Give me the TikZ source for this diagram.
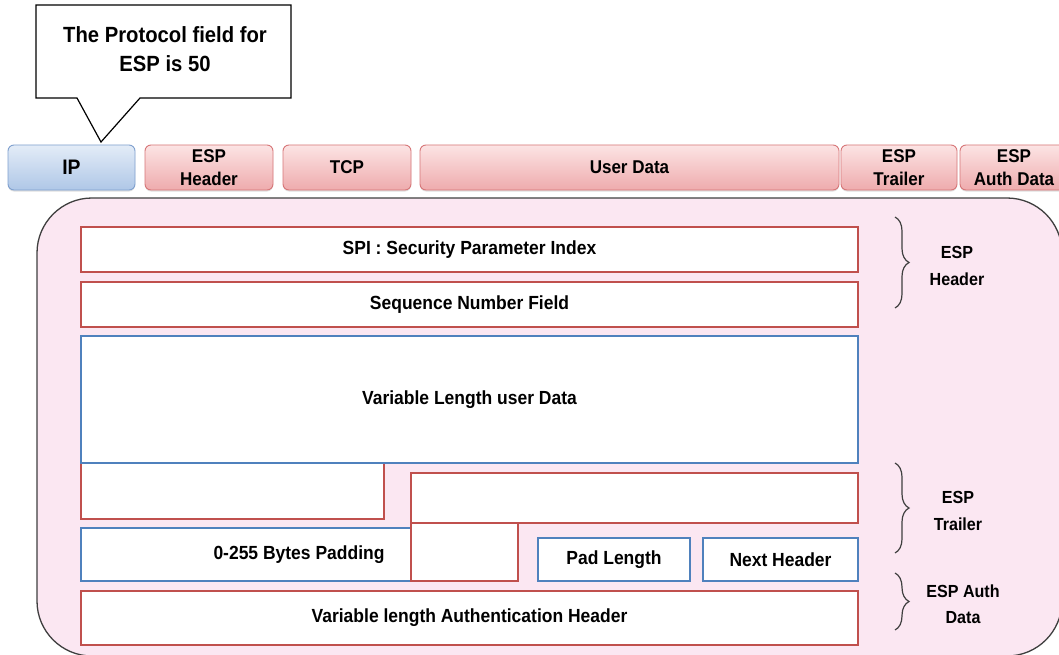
\documentclass[tikz,border=0pt]{standalone}
\usepackage{fontspec}
\setmainfont{Liberation Sans}[FakeStretch=0.92]
\usetikzlibrary{decorations.pathreplacing,shadows}
\definecolor{boxred}{HTML}{C0504D}
\definecolor{boxblue}{HTML}{4F81BD}
\definecolor{bgpink}{HTML}{FBE7F2}
\definecolor{pkttop}{HTML}{FCE4E4}
\definecolor{pktbot}{HTML}{EEABAD}
\definecolor{pktline}{HTML}{D77678}
\definecolor{iptop}{HTML}{E3ECF7}
\definecolor{ipbot}{HTML}{AFC7E7}
\definecolor{ipline}{HTML}{7FA0CF}
\definecolor{darkline}{HTML}{3F3F3F}
\begin{document}
\begin{tikzpicture}[x=1pt,y=-1pt,
  fld/.style={draw=boxred, line width=2.4pt, fill=white, inner sep=0pt, outer sep=0pt,
    anchor=north west, align=center, font=\bfseries\fontsize{19}{22}\selectfont},
  bfld/.style={fld, draw=boxblue},
  pkt/.style={draw=pktline, line width=0.9pt, rounded corners=6pt, top color=pkttop, bottom color=pktbot,
    inner sep=0pt, outer sep=0pt, anchor=north west, minimum height=45pt, align=center,
    font=\bfseries\fontsize{18.5}{23}\selectfont,
    drop shadow={shadow xshift=0pt, shadow yshift=-1.5pt, opacity=0.25}},
  ippkt/.style={pkt, draw=ipline, top color=iptop, bottom color=ipbot, font=\bfseries\fontsize{21}{23}\selectfont},
  brlabel/.style={align=center, font=\bfseries\fontsize{17.5}{26.5}\selectfont},
  brc/.style={decorate, decoration={brace, amplitude=14pt}, draw=darkline, line width=1.2pt},
]
\useasboundingbox (0,0) rectangle (1059,655);
\clip (0,0) rectangle (1059,655);
\fill[white] (0,0) rectangle (1059,655);

% container
\draw[darkline, line width=1.3pt, fill=bgpink, rounded corners=55pt] (37,198) rectangle (1062,656);

% callout
\draw[black, line width=1.2pt, fill=white] (36,5) -- (291,5) -- (291,98) -- (140,98) -- (101,142) -- (77,98) -- (36,98) -- cycle;
\node[align=center, font=\bfseries\fontsize{22}{29}\selectfont] (callout) at (165,49) {The Protocol field for\\ESP is 50};

% packet row
\node[ippkt, minimum width=127pt] (ip) at (8,145) {IP};
\node[pkt, minimum width=128pt] (esph) at (145,145) {ESP\\Header};
\node[pkt, minimum width=128pt] (tcp) at (283,145) {TCP};
\node[pkt, minimum width=419pt] (udata) at (420,145) {User Data};
\node[pkt, minimum width=116pt] (espt) at (841,145) {ESP\\Trailer};
\node[pkt, minimum width=108pt] (espa) at (960,145) {ESP\\Auth Data};

% fields
\node[fld, minimum width=777pt, minimum height=45pt] (spi) at (81,227) {SPI : Security Parameter Index};
\node[fld, minimum width=777pt, minimum height=45pt] (seq) at (81,282) {Sequence Number Field};
\node[fld, minimum width=303pt, minimum height=56pt] (padA) at (81,463) {};
\node[bfld, minimum width=777pt, minimum height=127pt] (vdata) at (81,336) {Variable Length user Data};
\node[bfld, minimum width=330pt, minimum height=53pt] (pad) at (81,528) {};
\node[font=\bfseries\fontsize{19}{22}\selectfont, inner sep=0pt] (padtxt) at (299,555) {0-255 Bytes Padding};
\node[fld, minimum width=447pt, minimum height=50pt] (padB) at (411,473) {};
\node[fld, minimum width=107pt, minimum height=58pt] (padC) at (411,523) {};
\node[bfld, minimum width=152pt, minimum height=43pt] (padlen) at (538,538) {Pad Length};
\node[bfld, minimum width=155pt, minimum height=43pt] (nxt) at (703,538) {Next Header};
\node[fld, minimum width=777pt, minimum height=54pt] (auth) at (81,591) {Variable length Authentication Header};

% braces
\coordinate (bh1) at (895,217); \coordinate (bh2) at (895,308);
\coordinate (bt1) at (895,463); \coordinate (bt2) at (895,553);
\coordinate (ba1) at (895,573); \coordinate (ba2) at (895,630);
\draw[brc] (bh1) -- (bh2);
\draw[brc] (bt1) -- (bt2);
\draw[brc] (ba1) -- (ba2);
\node[brlabel] (lh) at (957,266) {ESP\\Header};
\node[brlabel] (lt) at (958,511) {ESP\\Trailer};
\node[brlabel] (la) at (963,604) {ESP Auth\\Data};
\end{tikzpicture}
\end{document}
